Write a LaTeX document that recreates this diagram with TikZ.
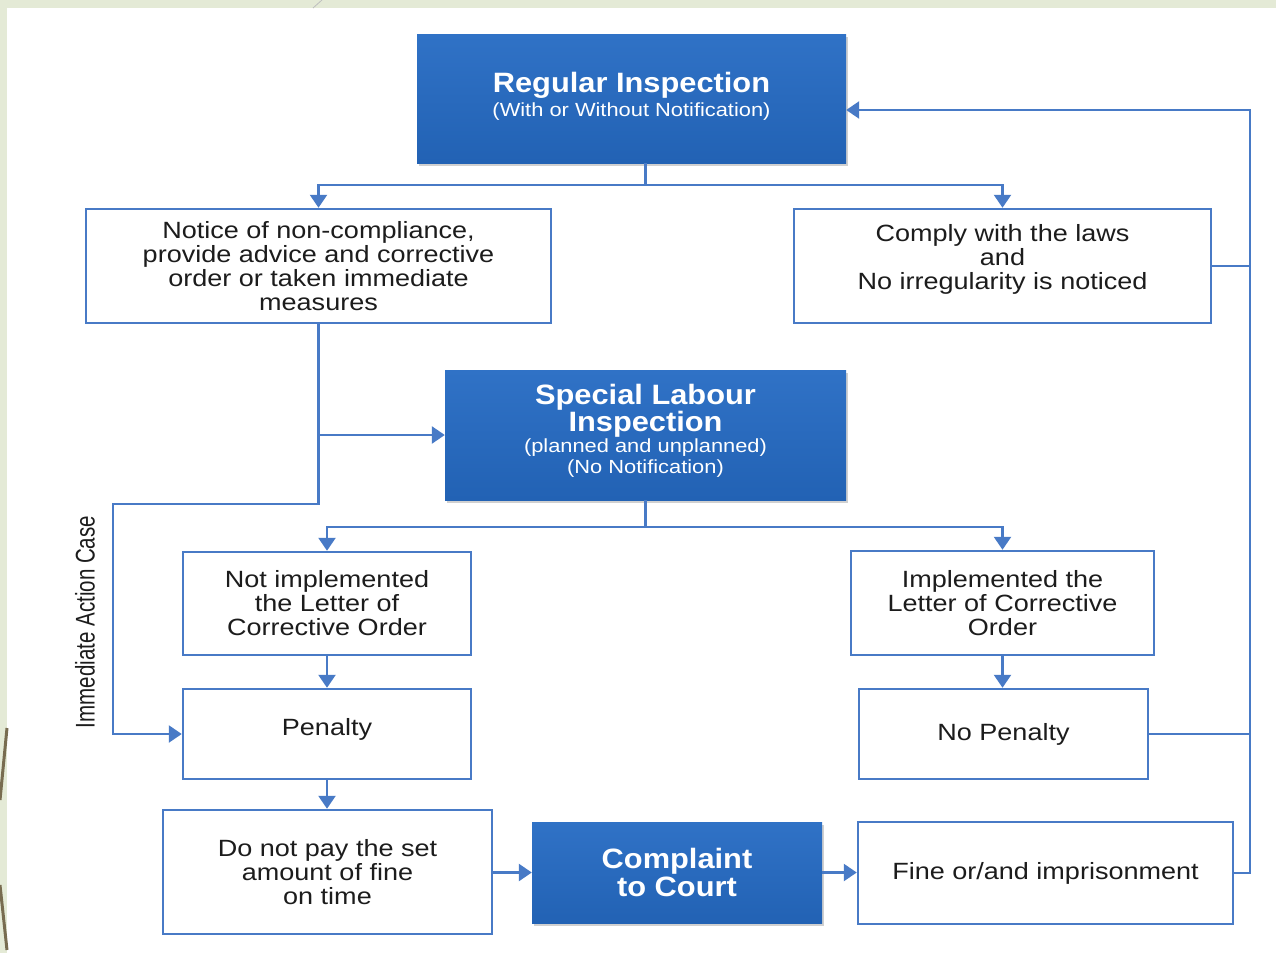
\documentclass[tikz,border=0pt]{standalone}
\usepackage{fontspec}
\setmainfont{Liberation Sans}
\newfontfamily\wf[FakeStretch=1.15]{Liberation Sans}
\newfontfamily\wbf[FakeStretch=1.1]{Liberation Sans}
\newfontfamily\nf[FakeStretch=0.76]{Liberation Sans}
\usetikzlibrary{arrows.meta,shadows,calc}
\definecolor{lineblue}{RGB}{72,122,198}
\definecolor{boxtop}{RGB}{48,114,198}
\definecolor{boxbot}{RGB}{34,98,180}
\definecolor{textdark}{RGB}{28,28,28}
\definecolor{slidegreen}{RGB}{228,234,214}
\definecolor{slidebrown}{RGB}{120,108,80}
\tikzset{
  wbox/.style={draw=lineblue, line width=2.5pt, fill=white, inner sep=0pt, align=center,
    text=textdark, font=\wf\fontsize{23.5}{24}\selectfont},
  bbox/.style={top color=boxtop, bottom color=boxbot, draw=none, inner sep=0pt, align=center,
    text=white, font=\wf\fontsize{19}{21}\selectfont,
    drop shadow={opacity=0.3, shadow xshift=2pt, shadow yshift=-3pt, fill=black!60}},
  conn/.style={draw=lineblue, line width=2.5pt},
  arr/.style={conn, -{Triangle[width=17pt,length=13pt]}},
}
\begin{document}
\begin{tikzpicture}[x=1pt,y=-1pt]
% background (slide)
\fill[slidegreen] (0,0) rectangle (1276,953);
\fill[white] (7,8) rectangle (1276,953);
\useasboundingbox (0,0) rectangle (1276,953);
\draw[black!25, line width=0.8pt] (313,8) -- (322,0);
\draw[slidebrown, line width=3pt] (7,728) -- (0,800);
\draw[slidebrown, line width=3pt] (0,885) -- (7,950);

% blue boxes
\node[bbox, minimum width=429pt, minimum height=129pt] (reg) at (631.5,98.5)
  {{\wbf\bfseries\fontsize{28}{28}\selectfont Regular Inspection}\\[3pt](With or Without Notification)\\[-12pt]};
\node[bbox, minimum width=401pt, minimum height=130pt] (spec) at (645.5,435)
  {{\wbf\bfseries\fontsize{28}{27}\selectfont Special Labour}\\{\wbf\bfseries\fontsize{28}{27}\selectfont Inspection}\\(planned and unplanned)\\(No Notification)\\[-8pt]};
\node[bbox, minimum width=290pt, minimum height=101pt] (court) at (677,872.5)
  {{\wbf\bfseries\fontsize{28}{27}\selectfont Complaint}\\[1pt]{\wbf\bfseries\fontsize{28}{27}\selectfont to Court}};

% white boxes
\node[wbox, minimum width=465pt, minimum height=114pt] (notice) at (318.5,266)
  {Notice of non-compliance,\\provide advice and corrective\\order or taken immediate\\measures};
\node[wbox, minimum width=417pt, minimum height=114pt] (comply) at (1002.5,266)
  {Comply with the laws\\and\\No irregularity is noticed\\[-6pt]};
\node[wbox, minimum width=288pt, minimum height=103pt] (notimpl) at (327,603.5)
  {Not implemented\\the Letter of\\Corrective Order};
\node[wbox, minimum width=303pt, minimum height=104pt] (impl) at (1002.5,603)
  {Implemented the\\Letter of Corrective\\Order};
\node[wbox, minimum width=288pt, minimum height=90pt] (penalty) at (327,734)
  {Penalty\\[-10pt]};
\node[wbox, minimum width=289pt, minimum height=90pt] (nopen) at (1003.5,734)
  {No Penalty};
\node[wbox, minimum width=329pt, minimum height=124pt] (donot) at (327.5,872)
  {Do not pay the set\\amount of fine\\on time};
\node[wbox, minimum width=375pt, minimum height=102pt] (fine) at (1045.5,873)
  {Fine or/and imprisonment};

% side label
\node[rotate=90, text=textdark, font=\nf\fontsize{27}{27}\selectfont, inner sep=0pt] (imm) at (85,622)
  {Immediate Action Case};

% connectors
\coordinate (j1) at (645.5,185);
\draw[conn] (reg.south -| spec.south) -- (j1);
\draw[arr] (j1) -| (notice.north);
\draw[arr] (j1) -| (comply.north);

\coordinate (k1) at (318.5,504);
\coordinate (k2) at (113,504);
\draw[arr] (notice.south) -- (k1) -- (k2) |- (penalty.west);
\draw[arr] (notice.south |- spec.west) -- (spec.west);

\coordinate (j3) at (645.5,527);
\draw[conn] (spec.south) -- (j3);
\draw[arr] (j3) -| (notimpl.north);
\draw[arr] (j3) -| (impl.north);

\draw[arr] (notimpl.south) -- (penalty.north);
\draw[arr] (impl.south) -- (impl.south |- nopen.north);
\draw[arr] (penalty.south) -- (penalty.south |- donot.north);
\draw[arr] (donot.east |- court.west) -- (court.west);
\draw[arr] (court.east) -- (court.east -| fine.west);

\coordinate (r) at (1250,110);
\draw[conn] (comply.east) -- (comply.east -| r);
\draw[conn] (nopen.east) -- (nopen.east -| r);
\draw[arr] (fine.east) -- (fine.east -| r) -- (r) -- (reg.east |- r);
\end{tikzpicture}
\end{document}
